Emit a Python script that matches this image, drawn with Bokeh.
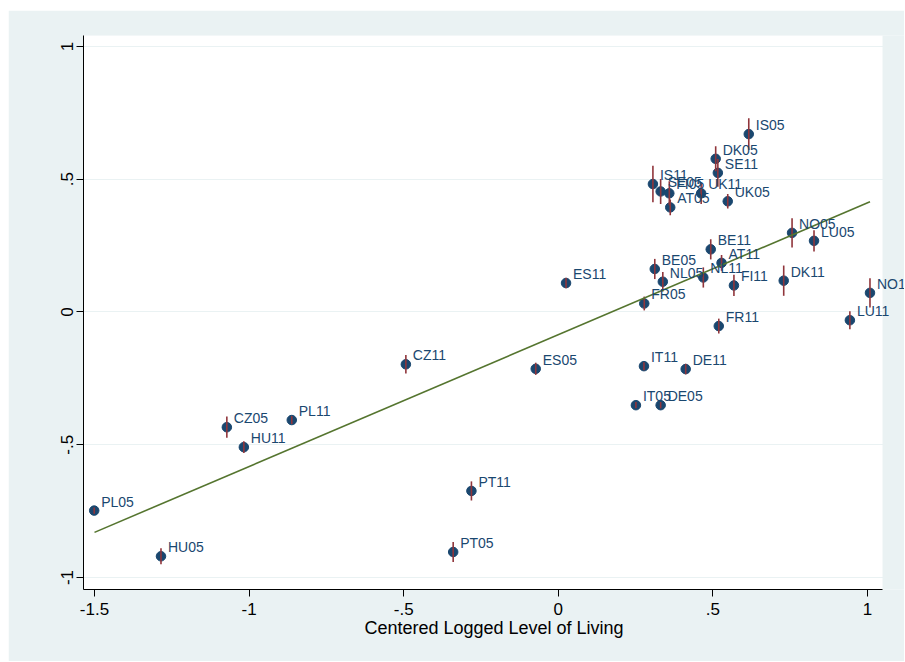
from bokeh.plotting import figure
from bokeh.models import ColumnDataSource, FixedTicker, LabelSet, BoxAnnotation
from bokeh.embed import file_html
from bokeh.resources import INLINE
from bokeh.core.properties import value

# ---- data ----
country = ["PL05", "HU05", "CZ05", "HU11", "PL11", "CZ11", "PT11", "PT05",
           "ES05", "ES11", "FR05", "IT11", "IT05", "DE05", "DE11", "FR11",
           "BE05", "NL05", "NL11", "AT11", "BE11", "FI11", "DK11", "NO05",
           "LU05", "NO11", "LU11", "IS05", "DK05", "SE11", "IS11", "SE05",
           "FI05", "AT05", "UK11", "UK05"]
level_of_living = [-1.501, -1.285, -1.072, -1.017, -0.862, -0.493, -0.281, -0.340,
                   -0.073, 0.025, 0.278, 0.277, 0.251, 0.331, 0.412, 0.519,
                   0.312, 0.338, 0.469, 0.528, 0.493, 0.568, 0.729, 0.756,
                   0.827, 1.008, 0.943, 0.616, 0.509, 0.516, 0.306, 0.331,
                   0.359, 0.362, 0.462, 0.548]
effect = [-0.748, -0.920, -0.434, -0.509, -0.407, -0.197, -0.674, -0.904,
          -0.214, 0.109, 0.032, -0.204, -0.351, -0.351, -0.215, -0.053,
          0.162, 0.114, 0.130, 0.185, 0.236, 0.100, 0.118, 0.298,
          0.268, 0.072, -0.031, 0.670, 0.577, 0.524, 0.482, 0.454,
          0.447, 0.394, 0.447, 0.417]
ci_half = [0.012, 0.030, 0.040, 0.022, 0.015, 0.035, 0.036, 0.038,
           0.023, 0.020, 0.026, 0.015, 0.012, 0.012, 0.020, 0.028,
           0.038, 0.037, 0.038, 0.030, 0.038, 0.040, 0.057, 0.055,
           0.040, 0.055, 0.034, 0.060, 0.047, 0.052, 0.069, 0.047,
           0.045, 0.030, 0.040, 0.027]

fit_x = [-1.5, 1.008]
fit_y = [-0.830, 0.415]

x_ticks = [-1.5, -1, -0.5, 0, 0.5, 1]
x_tick_labels = ["-1.5", "-1", "-.5", "0", ".5", "1"]
y_ticks = [-1, -0.5, 0, 0.5, 1]
y_tick_labels = ["-1", "-.5", "0", ".5", "1"]
x_title = "Centered Logged Level of Living"

# plot-region limits (data units)
x_lo, x_hi = -1.5356, 1.0485
y_lo, y_hi = -1.0452, 1.0414

# ---- figure ----
lo = [e - c for e, c in zip(effect, ci_half)]
hi = [e + c for e, c in zip(effect, ci_half)]
src = ColumnDataSource(dict(x=level_of_living, y=effect, lo=lo, hi=hi, name=country))

FONT = "Liberation Sans"
BG = "#EAF2F3"
NAVY = "#1A476F"

frame_w = 896 - 75
px_per_unit = 799 / (x_hi - x_lo)
x_end = x_lo + frame_w / px_per_unit

p = figure(width=896, height=651, output_backend="svg", toolbar_location=None,
           x_range=(x_lo, x_end), y_range=(y_lo, y_hi),
           min_border_left=75, min_border_right=0, min_border_top=25,
           min_border_bottom=72, margin=(10, 0, 0, 8))
p.border_fill_color = BG
p.background_fill_color = BG
p.outline_line_color = None

# white plot region
p.add_layout(BoxAnnotation(left=x_lo, right=x_hi, fill_color="white", fill_alpha=1,
                           line_color=None, level="image"))

p.scatter("x", "y", source=src, size=9.5, color=NAVY, line_color=NAVY)
p.segment(x0="x", y0="lo", x1="x", y1="hi", source=src, line_color="#90353B", line_width=1.6)
p.line(fit_x, fit_y, line_color="#55752F", line_width=1.6)

labels = LabelSet(x="x", y="y", text="name", source=src, x_offset=7, y_offset=4,
                  text_baseline="alphabetic", text_align="left",
                  text_font=value(FONT), text_font_size="14px", text_color=NAVY)
p.add_layout(labels)

p.xgrid.visible = False
p.ygrid.grid_line_color = BG
p.ygrid.grid_line_width = 1
p.ygrid.ticker = FixedTicker(ticks=y_ticks)

p.xaxis.ticker = FixedTicker(ticks=x_ticks)
p.xaxis.major_label_overrides = dict(zip(x_ticks, x_tick_labels))
p.xaxis.bounds = (x_lo, x_hi)
p.yaxis.ticker = FixedTicker(ticks=y_ticks)
p.yaxis.major_label_overrides = dict(zip(y_ticks, y_tick_labels))
p.yaxis.major_label_orientation = "parallel"

for ax in (p.xaxis[0], p.yaxis[0]):
    ax.axis_line_color = "black"
    ax.axis_line_width = 1
    ax.major_tick_line_color = "black"
    ax.major_tick_out = 7
    ax.major_tick_in = 0
    ax.minor_tick_line_color = None
    ax.major_label_text_font = FONT
    ax.major_label_text_font_size = "17px"
    ax.major_label_text_color = "black"

p.xaxis.major_label_standoff = 6
p.yaxis.major_label_standoff = 3
p.xaxis.axis_label = x_title
p.xaxis.axis_label_text_font = FONT
p.xaxis.axis_label_text_font_size = "18px"
p.xaxis.axis_label_text_font_style = "normal"
p.xaxis.axis_label_text_color = "black"
p.xaxis.axis_label_standoff = 0

open("out.html", "w").write(file_html(p, INLINE))
